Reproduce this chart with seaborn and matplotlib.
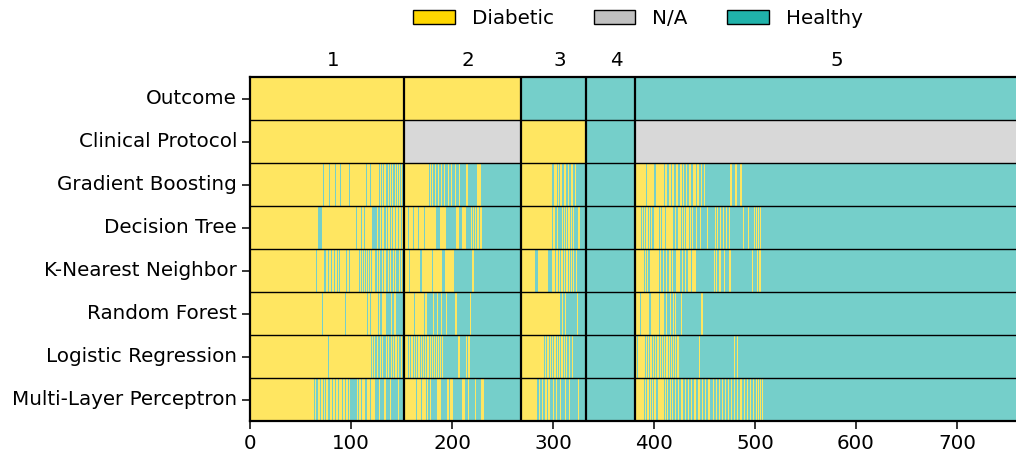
import numpy as np
import pandas as pd
import matplotlib
matplotlib.use("Agg")
import matplotlib.pyplot as plt
import matplotlib.transforms as mtransforms
from matplotlib.colors import ListedColormap
from matplotlib.patches import Patch
import seaborn as sns

# ---------------- data ----------------
N_SAMPLES = 768
GROUP_EDGES = [0, 152, 268, 333, 381, 768]
GROUP_LABELS = ["1", "2", "3", "4", "5"]
ROW_LABELS = ["Outcome", "Clinical Protocol", "Gradient Boosting", "Decision Tree",
              "K-Nearest Neighbor", "Random Forest", "Logistic Regression",
              "Multi-Layer Perceptron"]
# class codes: 0 = Healthy, 1 = N/A, 2 = Diabetic
CLASS_NAMES = ["Healthy", "N/A", "Diabetic"]
CLASS_COLORS = ["#20B2AA", "#C0C0C0", "#FFD700"]
LEGEND_ORDER = ["Diabetic", "N/A", "Healthy"]
XTICKS = [0, 100, 200, 300, 400, 500, 600, 700]

# inclusive sample intervals
OUTCOME_DIABETIC = [(0, 267)]
PROTOCOL_DIABETIC = [(0, 151), (268, 332)]
PROTOCOL_NA = [(152, 267), (381, 767)]

GB_DIABETIC = [
    (0, 71), (73, 77), (79, 83), (85, 88), (90, 97), (99, 114), (116, 118), (120, 127),
    (129, 129), (131, 131), (133, 133), (136, 136), (138, 138), (140, 140), (143, 143),
    (145, 145), (147, 147), (149, 149), (151, 151),
    (152, 176), (178, 178), (180, 180), (183, 183), (186, 186), (189, 189), (192, 192),
    (196, 196), (199, 199), (203, 203), (207, 207), (214, 215), (225, 228),
    (268, 298), (301, 303), (305, 305), (307, 308), (311, 312), (315, 315), (318, 319),
    (322, 322),
    (381, 391), (393, 399), (402, 409), (411, 412), (415, 416), (418, 419), (422, 423),
    (426, 427), (429, 429), (432, 432), (435, 436), (439, 440), (442, 443), (446, 446),
    (449, 449), (475, 476), (480, 481), (485, 486),
]
DT_DIABETIC = [
    (0, 66), (71, 104), (106, 109), (111, 112), (114, 120), (126, 126), (129, 129),
    (131, 132), (134, 134), (136, 137), (139, 139), (141, 142), (144, 145), (147, 148),
    (150, 150),
    (152, 155), (157, 160), (162, 165), (167, 171), (173, 183), (188, 193), (204, 206),
    (210, 213), (219, 219), (221, 221), (223, 223), (225, 226), (228, 229),
    (268, 298), (300, 301), (304, 304), (309, 309), (311, 311), (313, 313), (315, 316),
    (318, 318), (320, 320), (325, 326),
    (381, 386), (388, 388), (390, 390), (392, 393), (395, 395), (397, 397), (400, 404),
    (406, 406), (408, 410), (412, 418), (421, 421), (424, 426), (428, 428), (430, 430),
    (432, 434), (436, 436), (438, 438), (441, 441), (445, 445), (452, 452), (460, 460),
    (462, 462), (465, 465), (468, 468), (471, 471), (474, 474), (488, 488), (493, 493),
    (499, 499), (501, 501), (503, 503), (505, 505),
]
KNN_DIABETIC = [
    (0, 64), (66, 72), (75, 76), (78, 79), (81, 82), (84, 85), (87, 87), (89, 94),
    (96, 97), (99, 107), (109, 109), (111, 111), (113, 113), (115, 115), (117, 117),
    (119, 119), (121, 123), (126, 126), (128, 128), (131, 131), (133, 133), (136, 136),
    (138, 138), (141, 141), (143, 143), (147, 147), (149, 149),
    (152, 156), (158, 167), (170, 179), (181, 189), (193, 201), (220, 221),
    (268, 281), (285, 294), (299, 301), (303, 304), (306, 306), (308, 309), (311, 311),
    (313, 314), (316, 316), (318, 318), (320, 320), (323, 323),
    (381, 389), (391, 391), (393, 393), (396, 404), (406, 406), (409, 409), (412, 412),
    (415, 416), (418, 418), (422, 425), (428, 428), (431, 431), (434, 436), (438, 440),
    (459, 459), (461, 461), (464, 465), (469, 469), (474, 475), (497, 497), (502, 502),
    (504, 505),
]
RF_DIABETIC = [
    (0, 70), (72, 93), (95, 115), (117, 118), (120, 126), (128, 128), (131, 133),
    (139, 139), (142, 143),
    (152, 161), (163, 171), (173, 174), (181, 181), (185, 185), (189, 189), (194, 194),
    (203, 204), (218, 218),
    (268, 306), (309, 309), (312, 312), (324, 324),
    (381, 385), (387, 394), (397, 404), (406, 409), (412, 412), (416, 416), (419, 419),
    (421, 421), (427, 427), (446, 447),
]
LR_DIABETIC = [
    (0, 76), (78, 119), (121, 121), (123, 123), (126, 126), (129, 129), (131, 131),
    (134, 134), (136, 136), (139, 139), (141, 141), (143, 144), (146, 146), (149, 149),
    (151, 151),
    (152, 155), (157, 157), (159, 160), (162, 162), (164, 164), (166, 167), (169, 169),
    (171, 171), (173, 173), (175, 176), (178, 178), (180, 180), (182, 182), (184, 184),
    (186, 186), (188, 188), (190, 190), (206, 207), (214, 214), (216, 217),
    (268, 290), (292, 292), (294, 295), (297, 297), (299, 299), (301, 302), (304, 304),
    (306, 306), (308, 309), (311, 311), (313, 313), (316, 316), (319, 319),
    (381, 382), (384, 390), (392, 392), (394, 394), (396, 397), (399, 399), (401, 401),
    (403, 404), (406, 406), (408, 408), (410, 410), (412, 413), (415, 415), (417, 417),
    (419, 419), (421, 421), (423, 424), (444, 444), (479, 479), (482, 482),
]
MLP_DIABETIC = [
    (0, 62), (64, 64), (67, 68), (70, 71), (73, 73), (75, 76), (79, 80), (82, 83),
    (85, 86), (88, 90), (92, 93), (95, 96), (98, 98), (106, 106), (108, 109),
    (111, 113), (116, 118), (120, 123), (128, 128), (133, 133), (138, 138), (146, 146),
    (152, 163), (165, 168), (170, 173), (175, 175), (178, 178), (185, 188), (195, 196),
    (198, 200), (210, 212), (216, 216), (223, 223), (229, 231),
    (268, 283), (286, 286), (289, 289), (292, 293), (295, 296), (300, 300), (303, 303),
    (307, 307), (312, 312), (316, 316), (325, 325),
    (381, 389), (391, 391), (393, 394), (396, 396), (398, 398), (400, 401), (404, 409),
    (411, 411), (413, 413), (416, 416), (418, 418), (421, 421), (424, 424), (427, 428),
    (431, 431), (434, 434), (437, 437), (440, 440), (443, 444), (447, 447), (450, 450),
    (453, 454), (458, 458), (461, 461), (464, 464), (467, 467), (470, 470), (473, 473),
    (476, 476), (479, 479), (482, 482), (485, 486), (489, 489), (492, 492), (495, 495),
    (498, 498), (501, 501), (503, 503), (505, 505), (507, 507),
]
MODEL_INTERVALS = [GB_DIABETIC, DT_DIABETIC, KNN_DIABETIC, RF_DIABETIC,
                   LR_DIABETIC, MLP_DIABETIC]


def build_row(diabetic, na=()):
    row = np.zeros(N_SAMPLES, dtype=int)
    for a, b in na:
        row[a:b + 1] = 1
    for a, b in diabetic:
        row[a:b + 1] = 2
    return row


rows = [build_row(OUTCOME_DIABETIC), build_row(PROTOCOL_DIABETIC, PROTOCOL_NA)]
rows += [build_row(iv) for iv in MODEL_INTERVALS]
df = pd.DataFrame(np.vstack(rows), index=ROW_LABELS)

# ---------------- plot ----------------
W, H = 1016, 454
fig = plt.figure(figsize=(W / 100, H / 100), dpi=100)
left, right, top, bottom = 250.2, 1025.7, 77, 421
ax = fig.add_axes([left / W, 1 - bottom / H, (right - left) / W, (bottom - top) / H])

cmap = ListedColormap(CLASS_COLORS)
sns.heatmap(df, ax=ax, cmap=cmap, vmin=-0.5, vmax=2.5, cbar=False, alpha=0.62,
            xticklabels=False, yticklabels=ROW_LABELS)

FS = 14.3
ax.set_xticks(XTICKS)
ax.set_xticklabels([str(t) for t in XTICKS], rotation=0)
ax.set_yticklabels(ROW_LABELS, rotation=0)
ax.tick_params(axis="both", which="both", length=6, width=1.1, labelsize=FS,
               direction="out", color="black", bottom=True, left=True, pad=3.5)
ax.set_xlabel("")
ax.set_ylabel("")
for s in ax.spines.values():
    s.set_visible(True)
    s.set_color("black")
    s.set_linewidth(1.6)

for i in range(1, len(ROW_LABELS)):
    ax.axhline(i, color="black", lw=1.0)
for e in GROUP_EDGES[1:-1]:
    ax.axvline(e, color="black", lw=1.6)

trans = mtransforms.blended_transform_factory(ax.transData, ax.transAxes)
for lab, a, b in zip(GROUP_LABELS, GROUP_EDGES[:-1], GROUP_EDGES[1:]):
    ax.text((a + b) / 2 + 6, 1.02, lab, transform=trans, ha="center", va="bottom",
            fontsize=FS)

color_of = dict(zip(CLASS_NAMES, CLASS_COLORS))
handles = [Patch(facecolor=color_of[n], edgecolor="black", label=n) for n in LEGEND_ORDER]
fig.legend(handles=handles, ncol=3, loc="center",
           bbox_to_anchor=((left + right) / 2 / W, 1 - 18.5 / H), frameon=False,
           fontsize=FS, handlelength=2.1, handleheight=0.7, handletextpad=0.85,
           columnspacing=2.0, borderpad=0, borderaxespad=0)

fig.savefig("out.png", dpi=100)
